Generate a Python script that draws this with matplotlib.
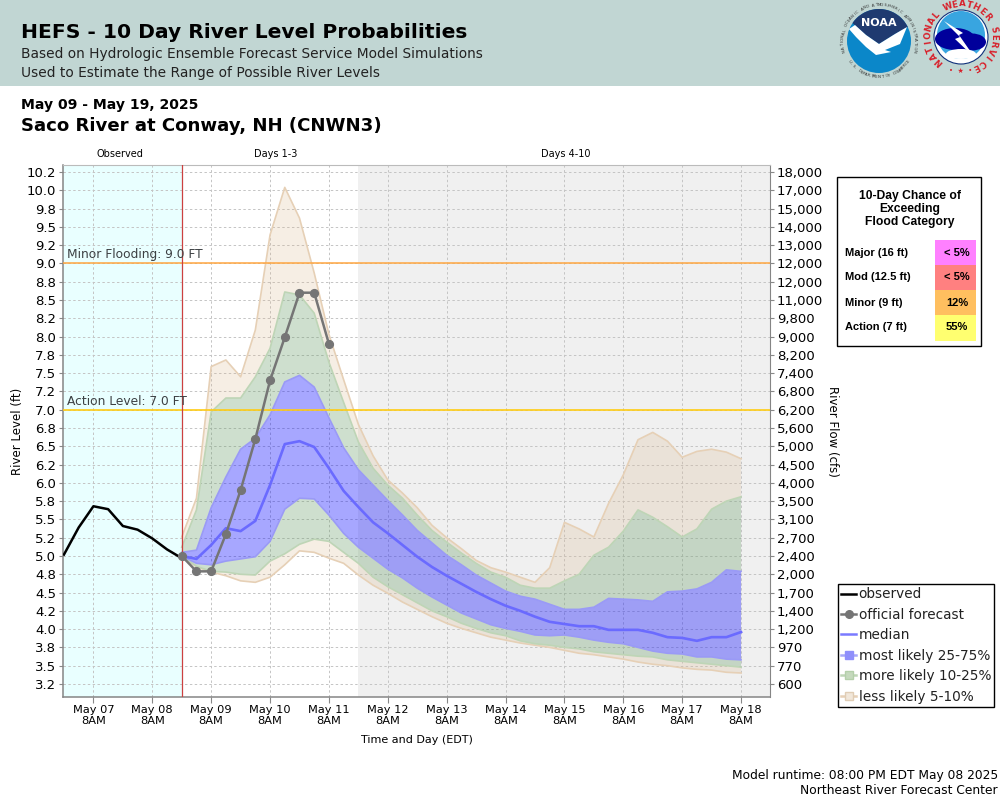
import math
import matplotlib
matplotlib.use("Agg")
import matplotlib.pyplot as plt
from matplotlib.lines import Line2D
from matplotlib.patches import Circle, Polygon, Rectangle, Ellipse

obs_hours = [-12, -6, 0, 6, 12, 18, 24, 30, 36]
obs_level = [5.02, 5.39, 5.68, 5.64, 5.41, 5.36, 5.24, 5.09, 4.97]

fcst_hours = [36 + 6 * i for i in range(39)]
official = [5.00, 4.79, 4.79, 5.30, 5.90, 6.60, 7.40, 7.99, 8.60, 8.60, 7.90]

less_hi = [5.26, 5.79, 7.59, 7.68, 7.45, 8.09, 9.39, 10.04, 9.62, 8.87, 8.03, 7.41, 6.80,
           6.37, 6.04, 5.86, 5.66, 5.42, 5.25, 5.10, 4.94, 4.84, 4.78, 4.71, 4.64, 4.84,
           5.46, 5.37, 5.26, 5.72, 6.11, 6.59, 6.69, 6.57, 6.35, 6.43, 6.46, 6.42, 6.33]
more_hi = [5.12, 5.63, 6.97, 7.16, 7.16, 7.45, 7.84, 8.61, 8.57, 8.32, 7.65, 7.10, 6.56,
           6.20, 5.97, 5.79, 5.56, 5.35, 5.19, 5.04, 4.90, 4.78, 4.71, 4.60, 4.56, 4.56,
           4.66, 4.75, 5.01, 5.12, 5.34, 5.63, 5.53, 5.40, 5.26, 5.37, 5.64, 5.75, 5.81]
most_hi = [5.05, 5.08, 5.66, 6.08, 6.46, 6.61, 6.93, 7.38, 7.47, 7.31, 6.89, 6.48, 6.18,
           5.97, 5.76, 5.56, 5.35, 5.18, 5.01, 4.88, 4.74, 4.63, 4.52, 4.45, 4.41, 4.34,
           4.27, 4.27, 4.30, 4.42, 4.41, 4.40, 4.38, 4.51, 4.52, 4.55, 4.64, 4.81, 4.79]
median = [5.00, 4.96, 5.15, 5.38, 5.34, 5.48, 5.97, 6.53, 6.57, 6.49, 6.20, 5.89, 5.67,
          5.46, 5.31, 5.15, 4.99, 4.85, 4.73, 4.62, 4.51, 4.41, 4.32, 4.25, 4.17, 4.10,
          4.07, 4.04, 4.04, 3.99, 3.99, 3.99, 3.95, 3.89, 3.88, 3.84, 3.89, 3.89, 3.96]
most_lo = [5.00, 4.90, 4.88, 4.93, 4.96, 4.99, 5.20, 5.64, 5.79, 5.78, 5.56, 5.31, 5.12,
           4.97, 4.82, 4.70, 4.56, 4.44, 4.33, 4.22, 4.14, 4.06, 4.01, 3.97, 3.92, 3.91,
           3.92, 3.89, 3.85, 3.82, 3.80, 3.75, 3.70, 3.67, 3.66, 3.62, 3.62, 3.59, 3.58]
more_lo = [5.00, 4.86, 4.79, 4.78, 4.75, 4.74, 4.93, 5.03, 5.16, 5.23, 5.20, 5.05, 4.90,
           4.71, 4.58, 4.47, 4.36, 4.25, 4.17, 4.08, 4.01, 3.95, 3.91, 3.84, 3.80, 3.78,
           3.75, 3.73, 3.69, 3.67, 3.65, 3.63, 3.62, 3.58, 3.56, 3.54, 3.52, 3.50, 3.48]
less_lo = [5.00, 4.85, 4.78, 4.73, 4.66, 4.64, 4.71, 4.88, 5.07, 5.05, 4.97, 4.90, 4.74,
           4.60, 4.49, 4.37, 4.27, 4.17, 4.08, 4.01, 3.95, 3.89, 3.85, 3.81, 3.78, 3.75,
           3.71, 3.67, 3.65, 3.62, 3.59, 3.55, 3.52, 3.50, 3.47, 3.45, 3.44, 3.41, 3.40]

y_ticks = [3.25 + 0.25 * i for i in range(29)]
y_labels = ["3.2", "3.5", "3.8", "4.0", "4.2", "4.5", "4.8", "5.0", "5.2", "5.5", "5.8",
            "6.0", "6.2", "6.5", "6.8", "7.0", "7.2", "7.5", "7.8", "8.0", "8.2", "8.5",
            "8.8", "9.0", "9.2", "9.5", "9.8", "10.0", "10.2"]
flow_labels = ["600", "770", "970", "1,200", "1,400", "1,700", "2,000", "2,400", "2,700",
               "3,100", "3,500", "4,000", "4,500", "5,000", "5,600", "6,200", "6,800",
               "7,400", "8,200", "9,000", "9,800", "11,000", "12,000", "12,000", "13,000",
               "14,000", "15,000", "17,000", "18,000"]
x_ticks = [24 * i for i in range(12)]
x_labels = [f"May {d:02d}\n8AM" for d in range(7, 19)]

chance_rows = ["Major (16 ft)", "Mod (12.5 ft)", "Minor (9 ft)", "Action (7 ft)"]
chance_vals = ["< 5%", "< 5%", "12%", "55%"]
chance_cols = ["#ff80ff", "#ff8080", "#ffbf5f", "#ffff70"]

LEFT, RIGHT, TOP, BOTTOM = 63, 770, 165, 697
W, H = 1000, 800
fig = plt.figure(figsize=(10, 8), dpi=100, facecolor="white")

# page overlay in pixel units
ov = fig.add_axes([0, 0, 1, 1], zorder=0)
ov.set_xlim(0, W); ov.set_ylim(H, 0); ov.axis("off")
ov.add_patch(Rectangle((0, 0), W, 86, fc="#c1d6d3", ec="none"))
ov.text(21, 33, "HEFS - 10 Day River Level Probabilities", fontsize=14.6, fontweight="bold", va="center")
ov.text(21, 54, "Based on Hydrologic Ensemble Forecast Service Model Simulations", fontsize=9.95, color="#222222", va="center")
ov.text(21, 73, "Used to Estimate the Range of Possible River Levels", fontsize=9.95, color="#222222", va="center")
ov.text(21, 105, "May 09 - May 19, 2025", fontsize=10.1, fontweight="bold", va="center")
ov.text(21, 126, "Saco River at Conway, NH (CNWN3)", fontsize=13.05, fontweight="bold", va="center")
ov.text(120, 154, "Observed", fontsize=7.0, ha="center", va="center")
ov.text(276, 154, "Days 1-3", fontsize=7.0, ha="center", va="center")
ov.text(566, 154, "Days 4-10", fontsize=7.0, ha="center", va="center")
ov.text(18, 431, "River Level (ft)", fontsize=8.5, rotation=90, ha="center", va="center")
ov.text(832, 431, "River Flow (cfs)", fontsize=8.5, rotation=270, ha="center", va="center")
ov.text(417, 740, "Time and Day (EDT)", fontsize=8.0, ha="center", va="center")
ov.text(998, 775, "Model runtime: 08:00 PM EDT May 08 2025", fontsize=8.85, ha="right", va="center")
ov.text(998, 791, "Northeast River Forecast Center", fontsize=8.85, ha="right", va="center")

# NOAA logo
cx, cy = 879, 41
ov.add_patch(Circle((cx, cy), 32, fc="#0b87c9", ec="none"))
dome = [(cx + 32 * math.cos(math.radians(a)), cy - 32 * math.sin(math.radians(a)))
        for a in range(26, 150, 4)]
ov.add_patch(Polygon(dome + [(cx - 13, cy - 6), (cx, cy + 3), (cx + 16, cy - 7)], fc="#1f3a70", ec="none"))
ov.add_patch(Polygon([(cx - 30, cy - 12), (cx - 24, cy - 16), (cx - 13, cy - 6), (cx, cy + 3), (cx + 16, cy - 7),
                      (cx + 28, cy - 14), (cx + 21, cy + 3), (cx + 6, cy + 9), (cx + 12, cy + 11),
                      (cx - 3, cy + 14), (cx - 13, cy + 6), (cx - 23, cy - 4)], fc="white", ec="none"))
ov.text(cx, cy - 18, "NOAA", color="white", fontsize=8, fontweight="bold", ha="center", va="center")
noaa_ring = "NATIONAL OCEANIC AND ATMOSPHERIC ADMINISTRATION"
for i, ch in enumerate(noaa_ring):
    a = math.radians(195 - i * 210 / (len(noaa_ring) - 1))
    ov.text(cx + 36 * math.cos(a), cy - 36 * math.sin(a), ch, fontsize=2.9, color="#333333",
            rotation=math.degrees(a) - 90, ha="center", va="center")
noaa_low = "U.S. DEPARTMENT OF COMMERCE"
for i, ch in enumerate(noaa_low):
    a = math.radians(215 + i * 110 / (len(noaa_low) - 1))
    ov.text(cx + 36 * math.cos(a), cy - 36 * math.sin(a), ch, fontsize=2.9, color="#333333",
            rotation=math.degrees(a) + 90, ha="center", va="center")

# NWS logo
nx, ny = 961, 37
ov.add_patch(Circle((nx, ny), 27, fc="white", ec="#10307a", lw=0.8))
ov.add_patch(Circle((nx, ny - 2), 24, fc="#38a5e0", ec="none"))
ov.add_patch(Ellipse((nx - 6, ny + 2), 40, 22, fc="#00009b", ec="none"))
ov.add_patch(Ellipse((nx + 11, ny + 5), 28, 17, fc="#00009b", ec="none"))
ov.add_patch(Ellipse((nx, ny + 17), 30, 10, fc="white", ec="none"))
ov.add_patch(Polygon([(nx - 17, ny - 16), (nx + 2, ny - 4), (nx - 2, ny - 2), (nx + 14, ny + 21),
                      (nx - 6, ny + 2), (nx - 1, ny)], fc="white", ec="none"))
top_ring = "NATIONAL WEATHER SERVICE"
for i, ch in enumerate(top_ring):
    a = math.radians(227 - i * 290 / (len(top_ring) - 1))
    ov.text(nx + 33 * math.cos(a), ny - 33 * math.sin(a), ch, fontsize=6.2, fontweight="bold",
            color="#d8202a", rotation=math.degrees(a) - 90, ha="center", va="center")
ov.text(nx, ny + 34, "\u2022  \u2605  \u2022", fontsize=5, color="#d8202a", ha="center", va="center")

# flood chance table
ov.add_patch(Rectangle((836.5, 176.5), 144, 169, fc="white", ec="black", lw=1))
ov.text(910, 209, "10-Day Chance of\nExceeding\nFlood Category", fontsize=8.7, fontweight="bold",
        family="Liberation Sans", ha="center", va="center", linespacing=1.08)
row_tops = [240, 265, 290, 315]
for top, row, val, col in zip(row_tops, chance_rows, chance_vals, chance_cols):
    ov.add_patch(Rectangle((935, top), 41, 26, fc=col, ec="none"))
    ov.text(845, top + 12.5, row, fontsize=8.0, fontweight="bold", family="Liberation Sans", va="center")
    ov.text(957, top + 12.5, val, fontsize=8.0, fontweight="bold", family="Liberation Sans", ha="center", va="center")

# main axes
ax = fig.add_axes([LEFT / W, 1 - BOTTOM / H, (RIGHT - LEFT) / W, (BOTTOM - TOP) / H], zorder=2)
ax.set_xlim(-12.4, 275.8)
ax.set_ylim(3.072, 10.346)
ax.axvspan(-12.4, 36, fc="#e9ffff", ec="none", zorder=0)
ax.axvspan(108, 275.8, fc="#f0f0f0", ec="none", zorder=0)
ax.set_axisbelow(True)
ax.grid(True, color="#c4c4c4", lw=0.7, ls=(0, (2.5, 2.5)))

for lo, hi, fc, a in [(more_hi, less_hi, (0.86, 0.72, 0.56), 0.24), (less_lo, more_lo, (0.86, 0.72, 0.56), 0.24),
                      (most_hi, more_hi, (0.42, 0.62, 0.42), 0.33), (more_lo, most_lo, (0.42, 0.62, 0.42), 0.33),
                      (most_lo, most_hi, (0.05, 0.05, 1.0), 0.36)]:
    ax.fill_between(fcst_hours, lo, hi, fc=fc, alpha=a, lw=0, zorder=2)
for s, c in [(less_hi, "#e6d0b6"), (less_lo, "#e6d0b6"), (more_hi, "#bed5b6"), (more_lo, "#bed5b6"),
             (most_hi, "#9a9af6"), (most_lo, "#9a9af6")]:
    ax.plot(fcst_hours, s, color=c, lw=1.2, zorder=3)
ax.plot(fcst_hours, median, color="#6a6aff", lw=1.9, zorder=4)
ax.axhline(9.0, color="#ffa640", lw=1.1, zorder=3)
ax.axhline(7.0, color="#ffcc14", lw=1.2, zorder=3)
ax.axvline(36, color="#cc4040", lw=0.9, zorder=5)
ax.plot(obs_hours, obs_level, color="black", lw=1.8, zorder=5)
ax.plot(fcst_hours[:len(official)], official, color="#757575", lw=1.8, marker="o", ms=5.6, zorder=6)
ax.text(-10.8, 9.03, "Minor Flooding: 9.0 FT", fontsize=8.85, color="#3c4043", va="bottom", zorder=7)
ax.text(-10.8, 7.03, "Action Level: 7.0 FT", fontsize=8.85, color="#3c4043", va="bottom", zorder=7)

ax.set_yticks(y_ticks)
ax.set_yticklabels(y_labels)
ax.set_xticks(x_ticks)
ax.set_xticklabels(x_labels, linespacing=1.1)
ax.tick_params(axis="y", labelsize=9.5, length=3, color="#888888", pad=2)
ax.tick_params(axis="x", labelsize=8.2, length=4, color="#888888", pad=2)
for side in ["left", "bottom"]:
    ax.spines[side].set_color("#858585"); ax.spines[side].set_linewidth(1.1)
ax.spines["top"].set_color("#bbbbbb")
ax.spines["right"].set_color("#858585")

axr = ax.twinx()
axr.set_ylim(ax.get_ylim())
axr.set_yticks(y_ticks)
axr.set_yticklabels(flow_labels)
axr.tick_params(axis="y", labelsize=9.5, length=3, color="#888888", pad=2)
for s in axr.spines.values():
    s.set_visible(False)

handles = [
    Line2D([], [], color="black", lw=1.8, label="observed"),
    Line2D([], [], color="#757575", lw=1.8, marker="o", ms=5.5, label="official forecast"),
    Line2D([], [], color="#7a7aff", lw=1.8, label="median"),
    Line2D([], [], color="#a8a8f8", lw=1.8, marker="s", ms=6, mfc="#8f8ffb", mec="#8f8ffb", label="most likely 25-75%"),
    Line2D([], [], color="#bed5b6", lw=1.8, marker="s", ms=6, mfc="#c5d9bd", mec="#b4cfaa", label="more likely 10-25%"),
    Line2D([], [], color="#e6d0b6", lw=1.8, marker="s", ms=6, mfc="#f1e7da", mec="#e0cdb5", label="less likely 5-10%"),
]
leg = fig.legend(handles=handles, loc="upper left", bbox_to_anchor=(838 / W, 1 - 584 / H), bbox_transform=fig.transFigure,
                 borderaxespad=0, frameon=True, fancybox=False, edgecolor="black", framealpha=1,
                 fontsize=9.85, labelspacing=0.47, handlelength=1.05, handletextpad=0.2, borderpad=0.25)
leg.get_frame().set_linewidth(1)
for t in leg.get_texts():
    t.set_color("#222222")

fig.savefig("out.png", dpi=100)
